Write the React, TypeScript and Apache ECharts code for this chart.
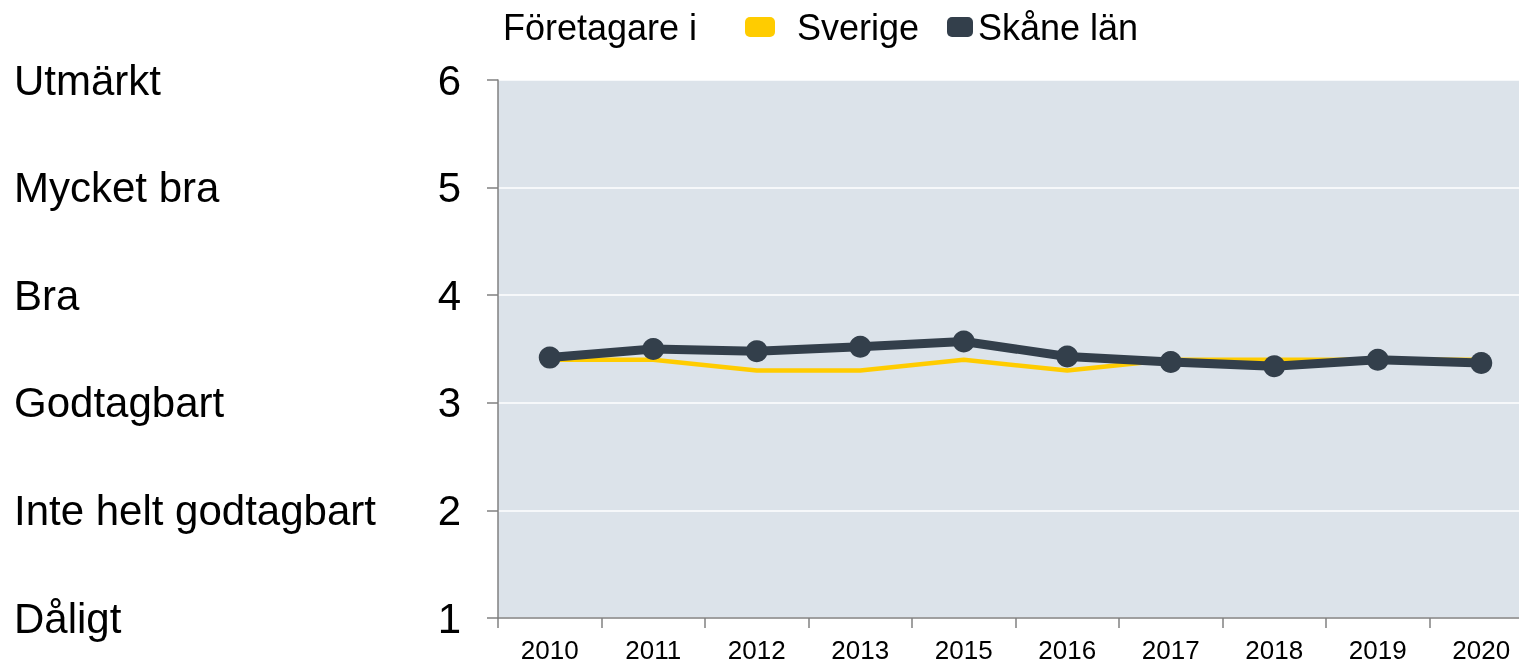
import React, { useEffect, useRef } from "react";
import * as echarts from "echarts";

const years = ["2010", "2011", "2012", "2013", "2015", "2016", "2017", "2018", "2019", "2020"];
const sverige = [3.4, 3.4, 3.3, 3.3, 3.4, 3.3, 3.4, 3.4, 3.4, 3.4];
const skane = [3.42, 3.5, 3.48, 3.52, 3.57, 3.43, 3.38, 3.34, 3.4, 3.37];
const ratingLabels: Record<number, string> = {
  1: "Dåligt",
  2: "Inte helt godtagbart",
  3: "Godtagbart",
  4: "Bra",
  5: "Mycket bra",
  6: "Utmärkt",
};
const legendTitle = "Företagare i";

const FONT = "'Liberation Sans', Arial, sans-serif";
const YELLOW = "#FFCC00";
const DARK = "#333F4B";

export default function App() {
  const ref = useRef<HTMLDivElement>(null);
  useEffect(() => {
    if (!ref.current) return;
    const chart = echarts.init(ref.current, undefined, { renderer: "svg" });
    chart.setOption({
      animation: false,
      textStyle: { fontFamily: FONT },
      graphic: [
        {
          type: "text",
          left: 503,
          top: 9,
          style: {
            text: legendTitle,
            fontSize: 36,
            fill: "#000",
            fontFamily: FONT,
          },
        },
      ],
      legend: [
        {
          data: [{ name: "Sverige", icon: "roundRect", itemStyle: { color: YELLOW } }],
          left: 745,
          top: 9,
          itemWidth: 30,
          itemHeight: 20,
          itemGap: 0,
          padding: 0,
          textStyle: {
            fontSize: 36,
            color: "#000",
            fontFamily: FONT,
            padding: [0, 0, 0, 17],
          },
          selectedMode: false,
        },
        {
          data: [{ name: "Skåne län", icon: "roundRect", itemStyle: { color: DARK } }],
          left: 947,
          top: 9,
          itemWidth: 26,
          itemHeight: 20,
          itemGap: 0,
          padding: 0,
          textStyle: {
            fontSize: 36,
            color: "#000",
            fontFamily: FONT,
            padding: [0, 0, 0, 0],
          },
          selectedMode: false,
        },
      ],
      grid: {
        left: 498,
        top: 80,
        width: 1035,
        bottom: 46,
        containLabel: false,
        outerBoundsMode: "none",
        show: true,
        backgroundColor: "#DCE3EA",
        borderWidth: 0,
      },
      xAxis: {
        type: "category",
        data: years,
        boundaryGap: true,
        axisLine: { show: true, lineStyle: { color: "#808080", width: 1.5 } },
        axisTick: { show: true, length: 10, lineStyle: { color: "#808080", width: 1.5 } },
        axisLabel: {
          fontSize: 26,
          lineHeight: 20,
          color: "#000",
          margin: 22,
          fontFamily: FONT,
        },
        splitLine: { show: false },
      },
      yAxis: [
        {
          type: "value",
          min: 1,
          max: 6,
          interval: 1,
          axisLine: { show: true, lineStyle: { color: "#808080", width: 1.5 } },
          axisTick: { show: true, length: 11, lineStyle: { color: "#808080", width: 1.5 } },
          axisLabel: { fontSize: 42, color: "#000", margin: 37, fontFamily: FONT },
          splitLine: { show: true, lineStyle: { color: "#FFFFFF", width: 1.5 } },
        },
        {
          type: "value",
          position: "left",
          min: 1,
          max: 6,
          interval: 1,
          axisLine: { show: false },
          axisTick: { show: false },
          splitLine: { show: false },
          axisLabel: {
            fontSize: 42,
            color: "#000",
            align: "left",
            margin: 484,
            fontFamily: FONT,
            formatter: (v: number) => ratingLabels[v] ?? "",
          },
        },
      ],
      series: [
        {
          name: "Sverige",
          type: "line",
          data: sverige,
          showSymbol: false,
          symbol: "none",
          lineStyle: { color: YELLOW, width: 4.5 },
          itemStyle: { color: YELLOW },
          z: 2,
        },
        {
          name: "Skåne län",
          type: "line",
          data: skane,
          symbol: "circle",
          symbolSize: 22,
          lineStyle: { color: DARK, width: 9 },
          itemStyle: { color: DARK },
          z: 3,
        },
      ],
    });
    return () => chart.dispose();
  }, []);
  return (
    <div
      ref={ref}
      style={{ position: "fixed", left: 0, top: 0, width: 1519, height: 664 }}
    />
  );
}
